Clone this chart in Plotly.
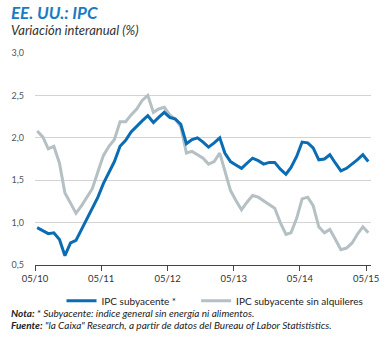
import plotly.graph_objects as go
import pandas as pd

# ---- data ----
months = pd.date_range("2010-05-01", periods=61, freq="MS") + pd.Timedelta(days=12)
core = [0.94, 0.90, 0.87, 0.88, 0.80, 0.61, 0.76, 0.79, 0.92, 1.05, 1.17, 1.30,
        1.46, 1.59, 1.72, 1.90, 1.97, 2.07, 2.14, 2.20, 2.26, 2.18, 2.24, 2.30,
        2.24, 2.22, 2.16, 1.93, 1.98, 2.00, 1.95, 1.89, 1.94, 2.00, 1.82, 1.72,
        1.68, 1.64, 1.70, 1.76, 1.73, 1.69, 1.71, 1.71, 1.63, 1.57, 1.65, 1.78,
        1.95, 1.94, 1.88, 1.74, 1.75, 1.80, 1.70, 1.61, 1.64, 1.69, 1.74, 1.80,
        1.72]
core_ex_rent = [2.08, 2.01, 1.87, 1.90, 1.70, 1.35, 1.23, 1.11, 1.20, 1.31, 1.40, 1.60,
                1.79, 1.90, 1.98, 2.19, 2.19, 2.27, 2.34, 2.44, 2.50, 2.30, 2.34, 2.36,
                2.27, 2.22, 2.13, 1.82, 1.84, 1.80, 1.76, 1.69, 1.72, 1.82, 1.60, 1.38,
                1.26, 1.15, 1.24, 1.32, 1.30, 1.26, 1.22, 1.17, 1.00, 0.86, 0.88, 1.05,
                1.28, 1.30, 1.20, 0.95, 0.88, 0.92, 0.80, 0.68, 0.70, 0.76, 0.86, 0.95,
                0.88]
tick_dates = ["2010-05-01", "2011-05-01", "2012-05-01", "2013-05-01", "2014-05-01", "2015-05-01"]
tick_text = ["05/10", "05/11", "05/12", "05/13", "05/14", "05/15"]
y_ticks = [0.5, 1.0, 1.5, 2.0, 2.5, 3.0]

BLUE = "#0a6db3"
GREY = "#b5c0c4"
FONT = "Lato, Open Sans, sans-serif"

# ---- layout geometry (pixels) ----
WID, HEI = 391, 338
L, R, T, B = 33, 375, 53, 265
PW, PH = R - L, B - T


def px_x(p):
    return (p - L) / PW


def px_y(p):
    return (B - p) / PH


fig = go.Figure()
fig.add_trace(go.Scatter(x=months, y=core_ex_rent, mode="lines",
                         name="IPC subyacente sin alquileres",
                         line=dict(color=GREY, width=3), legend="legend2"))
fig.add_trace(go.Scatter(x=months, y=core, mode="lines", name="IPC subyacente *",
                         line=dict(color=BLUE, width=3), legend="legend"))

fig.update_layout(
    width=WID, height=HEI,
    margin=dict(l=L, r=WID - R, t=T, b=HEI - B, pad=0),
    paper_bgcolor="white", plot_bgcolor="white",
    separators=",.",
    font=dict(family=FONT, size=9, color="#333333"),
    showlegend=True,
    legend=dict(orientation="h", x=px_x(60), y=px_y(300.7), xanchor="left", yanchor="middle",
                font=dict(family=FONT, size=10, color="#222222"), bgcolor="rgba(0,0,0,0)",
                borderwidth=0, itemwidth=30),
    legend2=dict(orientation="h", x=px_x(197), y=px_y(300.7), xanchor="left", yanchor="middle",
                 font=dict(family=FONT, size=10, color="#222222"), bgcolor="rgba(0,0,0,0)",
                 borderwidth=0, itemwidth=30),
)

fig.update_xaxes(
    type="date",
    range=["2010-05-01", "2015-05-28"],
    tickmode="array", tickvals=tick_dates, ticktext=tick_text,
    showgrid=False, zeroline=False,
    showline=True, linecolor="#444444", linewidth=1,
    ticks="outside", ticklen=5, tickcolor="#444444", tickwidth=1,
    tickfont=dict(family=FONT, size=9.5, color="#333333"),
)
fig.update_yaxes(
    range=[0.5, 3.0],
    tickmode="array", tickvals=y_ticks, tickformat=".1f",
    showgrid=True, gridcolor="#d3d3d3", gridwidth=1,
    zeroline=False, showline=False, ticks="",
    ticklabelstandoff=10,
    tickfont=dict(family=FONT, size=9, color="#555555"),
)

annotations = [
    dict(text="<b><i>EE. UU.: IPC</i></b>", x=px_x(7), y=px_y(12), xanchor="left", yanchor="middle",
         font=dict(family=FONT, size=17, color="#1b7bc2")),
    dict(text="<i>Variación interanual (%)</i>", x=px_x(7), y=px_y(30), xanchor="left", yanchor="middle",
         font=dict(family=FONT, size=13, color="#333333")),
    dict(text="<b><i>Nota:</i></b><i> * Subyacente: índice general sin energía ni alimentos.</i>",
         x=px_x(7), y=px_y(313), xanchor="left", yanchor="middle",
         font=dict(family=FONT, size=10, color="#222222")),
    dict(text="<b><i>Fuente:</i></b><i> \"la Caixa\" Research, a partir de datos del Bureau of Labor Statististics.</i>",
         x=px_x(7), y=px_y(325), xanchor="left", yanchor="middle",
         font=dict(family=FONT, size=10, color="#222222")),
]
for a in annotations:
    a.update(xref="paper", yref="paper", showarrow=False)
fig.update_layout(annotations=annotations)

fig.write_html("out.html")
